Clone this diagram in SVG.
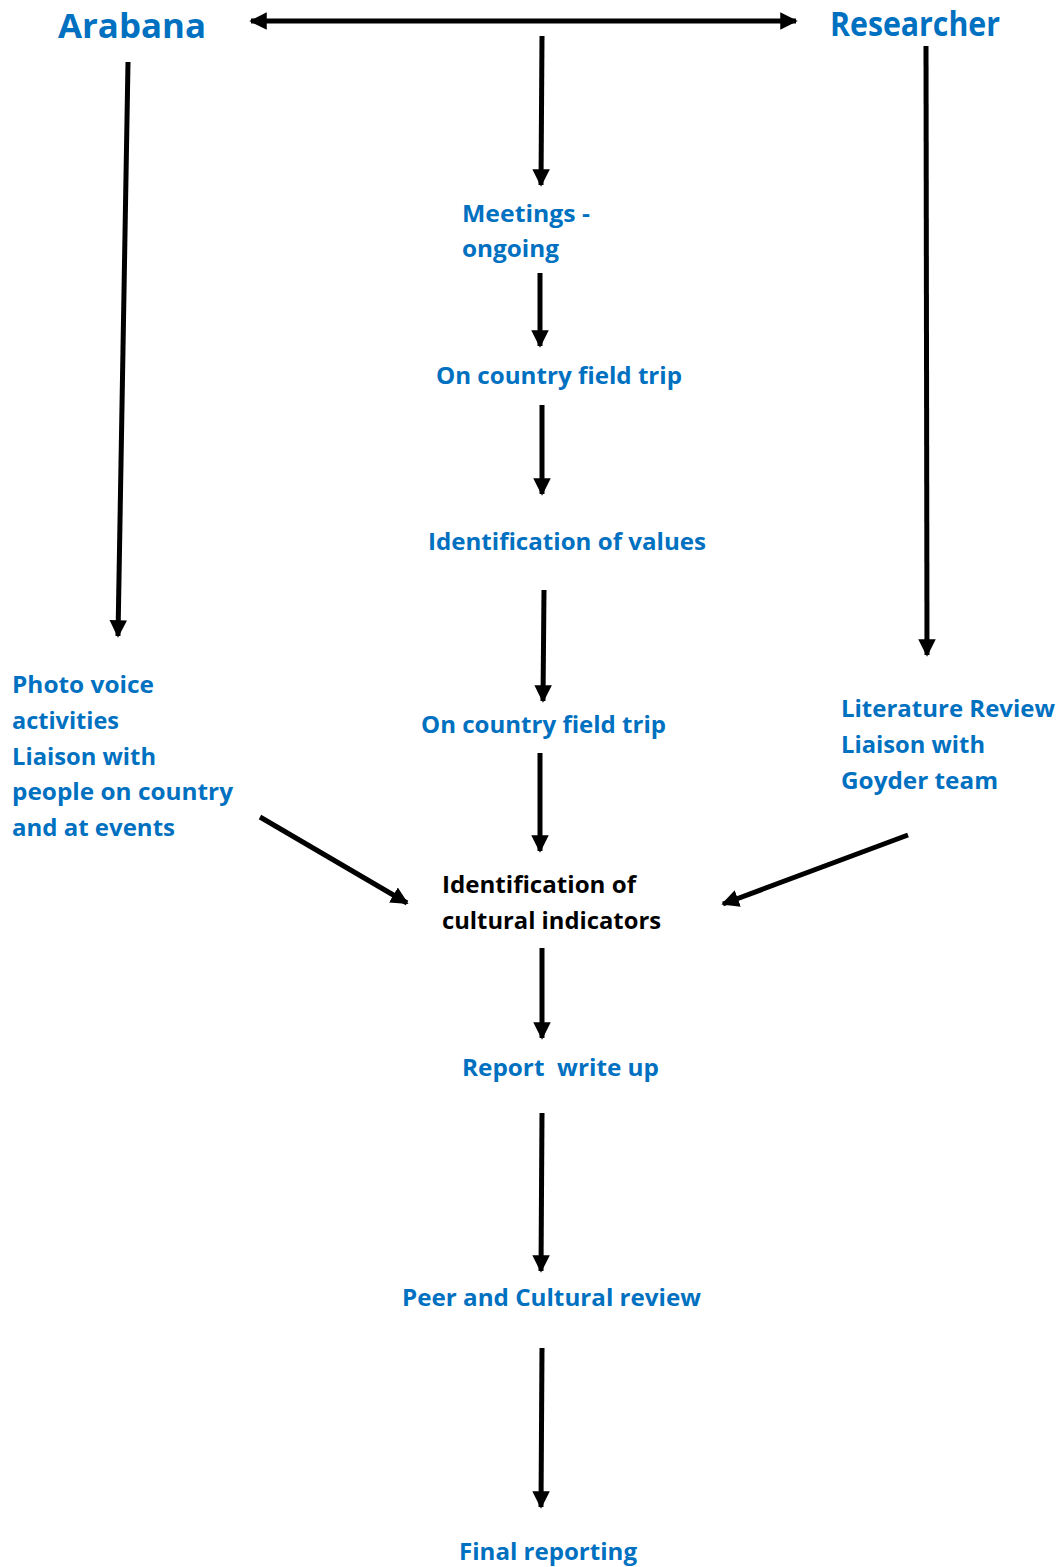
<svg xmlns="http://www.w3.org/2000/svg" width="1062" height="1567" viewBox="0 0 1062 1567">
<style>
text{font-family:"Open Sans",Lato,"Liberation Sans",sans-serif;font-weight:bold;font-size:24px;fill:#0070C0}
.title{font-size:34px}
.black{fill:#000}
.c line{stroke:#000;stroke-width:5;marker-end:url(#ah)}
</style>
<defs>
<marker id="ah" viewBox="0 0 10 10" refX="9" refY="5" markerUnits="strokeWidth" markerWidth="3.5" markerHeight="3.6" orient="auto-start-reverse">
<path d="M0,0 L10,5 L0,10 z" fill="#000"/>
</marker>
</defs>
<g id="arabana"><text class="title" x="58" y="38" textLength="148" lengthAdjust="spacingAndGlyphs">Arabana</text></g>
<g id="researcher"><text class="title" x="830" y="36" textLength="170" lengthAdjust="spacingAndGlyphs">Researcher</text></g>
<g id="meetings"><text x="462" y="222" textLength="128" lengthAdjust="spacingAndGlyphs">Meetings -</text><text x="462" y="257" textLength="97" lengthAdjust="spacingAndGlyphs">ongoing</text></g>
<g id="field1"><text x="436" y="384" textLength="246" lengthAdjust="spacingAndGlyphs">On country field trip</text></g>
<g id="values"><text x="428" y="550" textLength="278" lengthAdjust="spacingAndGlyphs">Identification of values</text></g>
<g id="photo"><text x="12" y="693" textLength="142" lengthAdjust="spacingAndGlyphs">Photo voice</text><text x="12" y="729" textLength="107" lengthAdjust="spacingAndGlyphs">activities</text><text x="12" y="765" textLength="144" lengthAdjust="spacingAndGlyphs">Liaison with</text><text x="12" y="800" textLength="221" lengthAdjust="spacingAndGlyphs">people on country</text><text x="12" y="836" textLength="163" lengthAdjust="spacingAndGlyphs">and at events</text></g>
<g id="field2"><text x="421" y="733" textLength="245" lengthAdjust="spacingAndGlyphs">On country field trip</text></g>
<g id="literature"><text x="841" y="717" textLength="214" lengthAdjust="spacingAndGlyphs">Literature Review</text><text x="841" y="753" textLength="144" lengthAdjust="spacingAndGlyphs">Liaison with</text><text x="841" y="789" textLength="157" lengthAdjust="spacingAndGlyphs">Goyder team</text></g>
<g id="indicators"><text class="black" x="442" y="893" textLength="194" lengthAdjust="spacingAndGlyphs">Identification of</text><text class="black" x="442" y="929" textLength="219" lengthAdjust="spacingAndGlyphs">cultural indicators</text></g>
<g id="report"><text x="462" y="1076" xml:space="preserve" textLength="197" lengthAdjust="spacingAndGlyphs">Report  write up</text></g>
<g id="review"><text x="402" y="1306" textLength="299" lengthAdjust="spacingAndGlyphs">Peer and Cultural review</text></g>
<g id="final"><text x="459" y="1560" textLength="178" lengthAdjust="spacingAndGlyphs">Final reporting</text></g>
<g class="c" id="connectors">
<line x1="251" y1="21" x2="796" y2="21" style="marker-start:url(#ah)"/>
<line x1="542" y1="36" x2="541" y2="185"/>
<line x1="128" y1="62" x2="118" y2="636"/>
<line x1="926" y1="46" x2="927" y2="655"/>
<line x1="540" y1="273" x2="540" y2="346"/>
<line x1="542" y1="405" x2="542" y2="494"/>
<line x1="544" y1="590" x2="543" y2="701"/>
<line x1="540" y1="753" x2="540" y2="851"/>
<line x1="260" y1="817" x2="407" y2="903"/>
<line x1="908" y1="835" x2="723" y2="904"/>
<line x1="542" y1="948" x2="542" y2="1038"/>
<line x1="542" y1="1113" x2="541" y2="1271"/>
<line x1="542" y1="1348" x2="541" y2="1507"/>
</g>
</svg>
